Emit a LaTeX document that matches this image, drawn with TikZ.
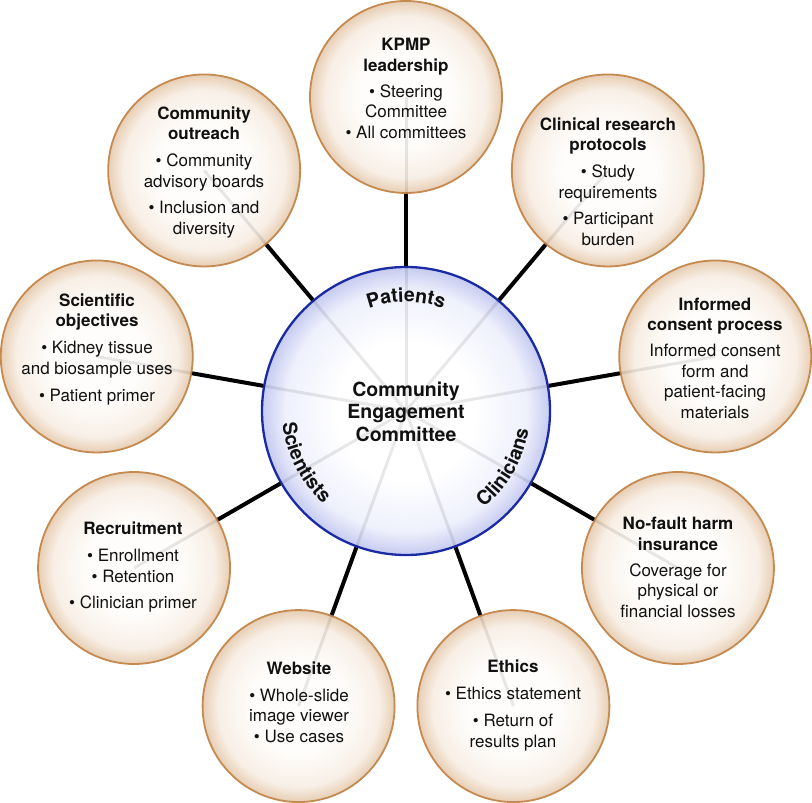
\documentclass[tikz,border=0pt]{standalone}
\usepackage{fontspec}
\setmainfont{TeX Gyre Heros}
\usetikzlibrary{decorations.text,calc}
\definecolor{obin}{HTML}{FEFDFB}
\definecolor{obmid}{HTML}{F8EFE6}
\definecolor{obout}{HTML}{E7CEB4}
\definecolor{obdraw}{HTML}{C48A50}
\definecolor{cbin}{HTML}{FFFFFF}
\definecolor{cbmid}{HTML}{EEF0FC}
\definecolor{cbout}{HTML}{C6CBF0}
\definecolor{cbdraw}{HTML}{1A2AA5}
\definecolor{txt}{HTML}{111111}
\pgfdeclareradialshading{outerball}{\pgfpoint{0bp}{0bp}}{color(0bp)=(obin); color(12bp)=(obin); color(21bp)=(obmid); color(25bp)=(obout); color(50bp)=(obout)}
\pgfdeclareradialshading{centerball}{\pgfpoint{0bp}{0bp}}{color(0bp)=(cbin); color(12bp)=(cbin); color(21bp)=(cbmid); color(25bp)=(cbout); color(50bp)=(cbout)}
\tikzset{
  outerc/.style={circle, minimum size=192pt, inner sep=0pt, shading=outerball, draw=obdraw, line width=1.8pt},
  centerc/.style={circle, minimum size=288pt, inner sep=0pt, shading=centerball, draw=cbdraw, line width=2.3pt},
  ghost/.style={line width=3pt, black, opacity=0.09},
  conn/.style={line width=4pt, black},
  lbl/.style={anchor=base, align=center, text=txt, font=\fontsize{17}{20.5}\selectfont, inner sep=0pt},
  ctitle/.style={anchor=base, align=center, text=txt, font=\bfseries\fontsize{19.5}{22.5}\selectfont, inner sep=0pt},
  arctext/.style={decorate, decoration={text along path, text align=center, text color=txt, text={|\bfseries\fontsize{19.5}{20}\selectfont|#1}}}
}
\begin{document}
\begin{tikzpicture}[x=1pt,y=1pt]
\useasboundingbox (0,0) rectangle (812,-803);
\coordinate (cc) at (406,-411);
\node[centerc] (c) at (cc) {};
\foreach \n/\a in {kpmp/90, outr/130, clin/50, sci/170, inf/10, rec/210, nof/330, web/250, eth/290} {
  \node[outerc] (\n) at ($(cc)+(\a:314)$) {};
}
\foreach \n in {kpmp, outr, clin, sci, inf, rec, nof, web, eth} {
  \draw[ghost] (c.center) -- (\n.center);
}
\foreach \n in {kpmp, outr, clin, sci, inf, rec, nof, web, eth} {
  \draw[conn] (c) -- (\n);
}
% labels (anchored at the baseline of the last line)
\node[lbl] (tkpmp) at (406,-138) {\textbf{KPMP}\\\textbf{leadership}\\[5.5pt]• Steering\\Committee\\• All committees};
\node[lbl] (toutr) at (204,-234) {\textbf{Community}\\\textbf{outreach}\\[6.5pt]• Community\\advisory boards\\[6pt]• Inclusion and\\diversity};
\node[lbl] (tclin) at (608,-245) {\textbf{Clinical research}\\\textbf{protocols}\\[6.5pt]• Study\\requirements\\[6pt]• Participant\\burden};
\node[lbl] (tsci) at (97,-401) {\textbf{Scientific}\\\textbf{objectives}\\[6.5pt]• Kidney tissue\\and biosample uses\\[6.5pt]• Patient primer};
\node[lbl] (tinf) at (715,-418) {\textbf{Informed}\\\textbf{consent process}\\[5.5pt]Informed consent\\form and\\patient-facing\\materials};
\node[lbl] (tnof) at (678,-617) {\textbf{No-fault harm}\\\textbf{insurance}\\[5.5pt]Coverage for\\physical or\\financial losses};
\node[lbl] (trec) at (133,-608) {\textbf{Recruitment}\\[6.5pt]• Enrollment\\• Retention\\[5.5pt]• Clinician primer};
\node[lbl] (tweb) at (299,-742) {\textbf{Website}\\[6.5pt]• Whole-slide\\image viewer\\• Use cases};
\node[lbl] (teth) at (513,-747) {\textbf{Ethics}\\[6.5pt]• Ethics statement\\[6.5pt]• Return of\\results plan};
\node[ctitle] (tc) at (406,-441) {Community\\Engagement\\Committee};
% curved group labels
\path[arctext=Patients] ($(cc)+(125:109)$) arc[start angle=125, end angle=55, radius=109];
\path[arctext=Scientists] ($(cc)+(172:124)$) arc[start angle=172, end angle=242, radius=124];
\path[arctext=Clinicians] ($(cc)+(295:124)$) arc[start angle=295, end angle=365, radius=124];
\end{tikzpicture}
\end{document}
